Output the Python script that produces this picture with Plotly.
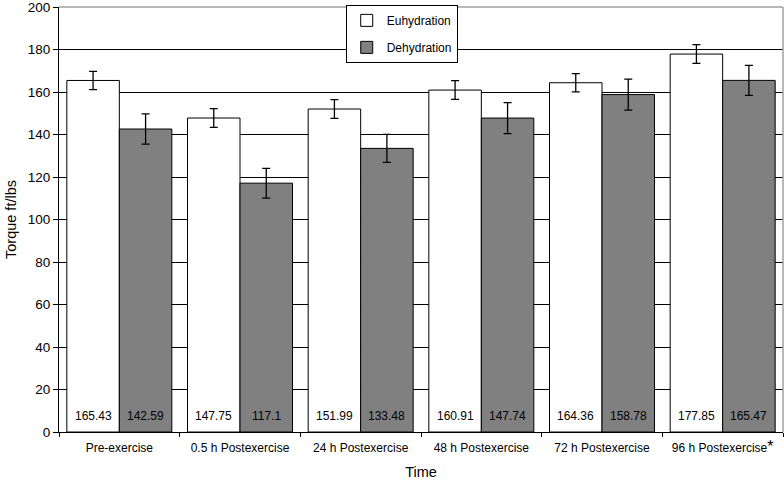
import plotly.graph_objects as go

categories = ["Pre-exercise", "0.5 h Postexercise", "24 h Postexercise",
              "48 h Postexercise", "72 h Postexercise",
              "96 h Postexercise<span style='font-size:16px'>*</span>"]
euhydration = [165.43, 147.75, 151.99, 160.91, 164.36, 177.85]
dehydration = [142.59, 117.1, 133.48, 147.74, 158.78, 165.47]
euh_err = [4.3, 4.4, 4.4, 4.4, 4.3, 4.4]
deh_err = [7.1, 7.0, 6.6, 7.3, 7.3, 7.1]
y_ticks = [0, 20, 40, 60, 80, 100, 120, 140, 160, 180, 200]

FONT = "Liberation Sans, Arial, sans-serif"
W, H = 784, 480
ML, MR, MT, MB = 59, 1, 7, 48
BARGAP = 0.13

fig = go.Figure()
for name, vals, errs, color, grp in [
    ("Euhydration", euhydration, euh_err, "#ffffff", "a"),
    ("Dehydration", dehydration, deh_err, "#808080", "b"),
]:
    fig.add_trace(go.Bar(
        name=name, x=categories, y=vals,
        marker=dict(color=color, line=dict(color="black", width=1)),
        error_y=dict(type="data", array=errs, visible=True, color="black",
                     thickness=1.3, width=4),
        legendgroup=grp, hoverinfo="x+y",
    ))

# value labels near the bottom of each bar
cat_px = (W - ML - MR) / len(categories)
bar_px = cat_px * (1 - BARGAP) / 2
annotations = []
for vals, sign in [(euhydration, -1), (dehydration, 1)]:
    for c, v in zip(categories, vals):
        annotations.append(dict(
            x=c, y=0, xref="x", yref="y", text=str(v), showarrow=False,
            xshift=sign * bar_px / 2, yshift=7, yanchor="bottom",
            font=dict(family=FONT, size=12, color="black")))

fig.update_layout(
    width=W, height=H,
    margin=dict(l=ML, r=MR, t=MT, b=MB),
    paper_bgcolor="white", plot_bgcolor="white",
    barmode="group", bargap=BARGAP, bargroupgap=0,
    font=dict(family=FONT, size=12, color="black"),
    showlegend=True,
    legend=dict(x=0.396, y=1.005, xanchor="left", yanchor="top",
                bgcolor="white", bordercolor="black", borderwidth=1,
                font=dict(family=FONT, size=12, color="black"),
                traceorder="grouped", tracegroupgap=8,
                itemwidth=30),
    xaxis=dict(title=dict(text="Time", font=dict(size=14.5), standoff=16),
               automargin=False, ticklabelstandoff=5,
               showline=True, linecolor="black", linewidth=1,
               ticks="outside", tickson="boundaries", ticklen=4,
               tickcolor="black", showgrid=False),
    yaxis=dict(title=dict(text="Torque ft/lbs", font=dict(size=14.5), standoff=7),
               automargin=False, ticklabeloverflow="allow",
               tickfont=dict(size=13.5),
               range=[0, 200], tickvals=y_ticks,
               showline=True, linecolor="black", linewidth=1,
               ticks="outside", ticklen=5, tickcolor="black",
               showgrid=True, gridcolor="black", gridwidth=1,
               zeroline=False),
    annotations=annotations,
    shapes=[
        dict(type="line", xref="paper", yref="paper", x0=0, x1=1, y0=1, y1=1,
             line=dict(color="#a0a0a0", width=1.5)),
        dict(type="line", xref="paper", yref="paper", x0=1, x1=1, y0=0, y1=1,
             line=dict(color="#a0a0a0", width=1.5)),
    ],
)

fig.write_html("out.html", config={"displayModeBar": False},
               post_script="document.body.style.margin='0';document.body.style.overflow='hidden';")
